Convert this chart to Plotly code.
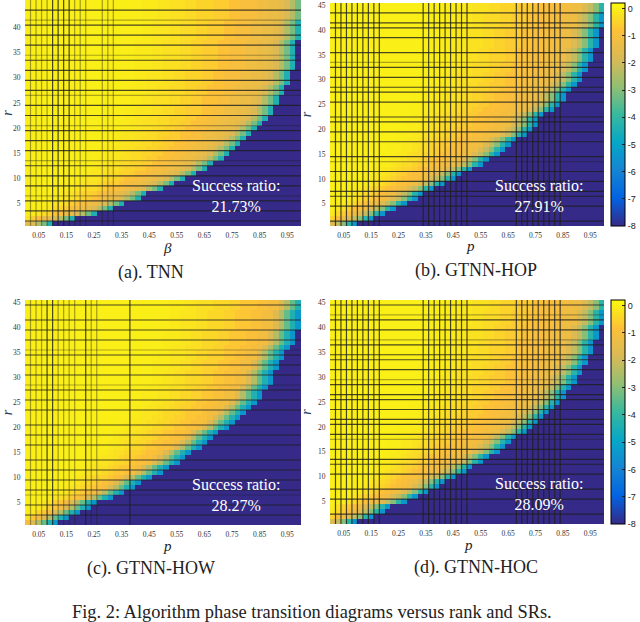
import plotly.graph_objects as go

W, H = 640, 622

# parula, as the colorbar in the picture shows it
PARULA = [[0, "rgb(53,42,135)"], [0.125, "rgb(3,99,225)"], [0.25, "rgb(20,133,212)"],
          [0.375, "rgb(6,167,198)"], [0.5, "rgb(56,185,158)"], [0.625, "rgb(146,191,115)"],
          [0.75, "rgb(217,186,86)"], [0.875, "rgb(253,192,56)"], [1, "rgb(249,251,14)"]]

ranks = list(range(1, 46))
srs = [round(0.01 + 0.02 * i, 2) for i in range(50)]
x_ticks = [0.05, 0.15, 0.25, 0.35, 0.45, 0.55, 0.65, 0.75, 0.85, 0.95]
y_ticks = [5, 10, 15, 20, 25, 30, 35, 40, 45]
cbar_ticks = [0, -1, -2, -3, -4, -5, -6, -7, -8]

# last recovered column of each rank (rank 1 first)
edge_a = [5, 9, 13, 16, 18, 21, 22, 25, 27, 29, 31, 33, 34, 36, 37, 38, 39, 40, 41, 42, 43, 44, 45,
          45, 46, 46, 47, 47, 48, 48, 48, 49, 49, 49, 49, 49, 49, 50, 50, 50, 50, 51, 51, 51, 51]
edge_b = [5, 8, 10, 12, 14, 16, 17, 19, 21, 23, 24, 26, 28, 29, 31, 32, 33, 34, 36, 37, 38, 38, 39,
          41, 42, 43, 43, 44, 45, 46, 46, 47, 47, 48, 48, 48, 49, 49, 49, 49, 50, 50, 50, 51, 51]
edge_c = [6, 8, 10, 12, 13, 16, 18, 20, 21, 23, 25, 26, 28, 29, 30, 32, 33, 34, 35, 37, 38, 39, 40,
          41, 42, 43, 43, 44, 45, 45, 45, 46, 46, 47, 47, 48, 49, 49, 49, 50, 50, 50, 50, 51, 51]
edge_d = [5, 8, 10, 11, 14, 16, 18, 20, 21, 23, 25, 26, 28, 29, 31, 32, 33, 34, 36, 37, 38, 39, 40,
          41, 42, 43, 43, 44, 45, 45, 46, 46, 47, 47, 48, 48, 48, 49, 49, 49, 50, 50, 50, 51, 51]

# log error in the cells right next to the edge
band_a = [-4.4, -3.2, -2.4, -1.8, -1.5]
band_b = [-5.4, -4.2, -3.0, -2.2, -1.7]
band_c = [-5.4, -4.4, -3.4, -2.4, -1.7]
band_d = [-5.4, -4.2, -3.0, -2.2, -1.7]

# log error further in, one entry per 5% of the way from the edge to the left side
fade_a = [-1.3, -1.2, -1.0, -0.8, -0.62, -0.47, -0.35, -0.26, -0.18, -0.1, -0.05, -0.02, 0, 0, 0, 0, 0, 0, 0, 0, 0]
fade_b = [-1.25, -1.1, -0.95, -0.8, -0.65, -0.5, -0.36, -0.24, -0.14, -0.06, -0.02, 0, 0, 0, 0, 0, 0, 0, 0, 0, 0]
fade_c = [-1.1, -0.9, -0.72, -0.55, -0.4, -0.28, -0.18, -0.1, -0.05, -0.02, 0, 0, 0, 0, 0, 0, 0, 0, 0, 0, 0]
fade_d = [-1.25, -1.1, -0.95, -0.8, -0.65, -0.5, -0.36, -0.24, -0.14, -0.06, -0.02, 0, 0, 0, 0, 0, 0, 0, 0, 0, 0]

# dark lines over the images: column edges from the left, row edges from the top
vlines_a = [5, 6, 7, 8]
vlines_soft_a = [1, 2, 3, 4, 9, 10, 11, 14, 15, 16]
hlines_a = [2, 5, 7, 9, 12, 14, 16, 18, 21, 23, 26, 28, 30, 33, 35, 37, 40, 42, 44]
hlines_soft_a = [4, 11, 19, 25, 32, 39]
vlines_b = [1, 2, 3, 4, 5, 6, 7, 8, 9, 17, 18, 19, 20, 21, 22, 23, 24, 25, 34, 35, 36, 37, 38, 39, 40, 41, 42]
vlines_soft_b = []
hlines_b = [2, 4, 5, 7, 10, 13, 15, 17, 18, 20, 23, 24, 26, 28, 31, 34, 36, 38, 39, 41, 44]
hlines_soft_b = [12, 32]
vlines_c = [4, 5, 11, 19]
vlines_soft_c = [1, 2, 3, 6, 7, 8, 9, 12, 13]
hlines_c = [1, 4, 6, 8, 11, 13, 15, 18, 20, 22, 25, 27, 29, 32, 34, 36, 38, 41, 43]
hlines_soft_c = [10, 17, 39]
vlines_d = vlines_b
vlines_soft_d = []
hlines_d = [1, 4, 6, 9, 11, 12, 14, 17, 19, 20, 22, 24, 25, 27, 30, 32, 33, 35, 38, 40, 43]
hlines_soft_d = [3, 8, 16, 28]


def build_z(edges, band, fade):
    z = []
    for edge in edges:
        row = []
        for col in range(1, 51):
            dist = edge - col
            if dist < 0:
                row.append(-8)
            elif dist < len(band):
                row.append(band[dist])
            else:
                row.append(fade[round(20 * (dist - len(band)) / edge)])
        z.append(row)
    return z


def add_text(text, x, y, size, color="#222", angle=0):
    fig.add_annotation(text=text, xref="paper", yref="paper", x=x / W, y=1 - y / H, xanchor="center", yanchor="middle",
                       showarrow=False, align="center", textangle=angle, font=dict(family=SERIF, size=size, color=color))


fig = go.Figure()

panels = [
    dict(name="", box=(25, 301, 0, 226), edges=edge_a, band=band_a, fade=fade_a, xt="<i>β</i>", xt_xy=(167, 248),
         cap="(a). TNN", cap_xy=(151, 272), sr="21.73%", sr_x=236, v=vlines_a, vs=vlines_soft_a, h=hlines_a, hs=hlines_soft_a),
    dict(name="2", box=(330, 604, 3, 226), edges=edge_b, band=band_b, fade=fade_b, xt="<i>p</i>", xt_xy=(470, 246),
         cap="(b). GTNN-HOP", cap_xy=(476, 270), sr="27.91%", sr_x=539, v=vlines_b, vs=vlines_soft_b, h=hlines_b, hs=hlines_soft_b),
    dict(name="3", box=(25, 301, 300, 525), edges=edge_c, band=band_c, fade=fade_c, xt="<i>p</i>", xt_xy=(167, 546),
         cap="(c). GTNN-HOW", cap_xy=(151, 568), sr="28.27%", sr_x=236, v=vlines_c, vs=vlines_soft_c, h=hlines_c, hs=hlines_soft_c),
    dict(name="4", box=(330, 604, 300, 524), edges=edge_d, band=band_d, fade=fade_d, xt="<i>p</i>", xt_xy=(468, 545),
         cap="(d). GTNN-HOC", cap_xy=(476, 567), sr="28.09%", sr_x=539, v=vlines_d, vs=vlines_soft_d, h=hlines_d, hs=hlines_soft_d),
]

SERIF = "Liberation Serif"
layout_axes = {}
for p in panels:
    n = p["name"]
    x0, x1, y0, y1 = p["box"]
    colorbar = None
    if n in ("2", "4"):
        colorbar = dict(x=611 / W, xanchor="left", y=1 - y0 / H, yanchor="top", len=(y1 - y0) / H,
                        thickness=14, xpad=0, ypad=0, outlinecolor="black", outlinewidth=1,
                        tickvals=cbar_ticks, ticktext=[str(t) for t in cbar_ticks], ticks="inside", ticklen=3,
                        tickcolor="#222", tickfont=dict(family="Liberation Sans", size=9, color="#222"))
    # the colorbar runs a little past 0, so the 0 tick sits below its top
    fig.add_trace(go.Heatmap(x=srs, y=ranks, z=build_z(p["edges"], p["band"], p["fade"]), zmin=-8, zmax=0.2,
                             colorscale=PARULA, showscale=colorbar is not None, colorbar=colorbar,
                             xaxis="x" + n, yaxis="y" + n))
    layout_axes["xaxis" + n] = dict(domain=[x0 / W, x1 / W], range=[0, 1], anchor="y" + n, tickvals=x_ticks,
                                    ticktext=[f"{t:.2f}" for t in x_ticks], ticks="outside", ticklen=2,
                                    tickcolor="rgba(0,0,0,0)", tickfont=dict(family=SERIF, size=7.5, color="#333"),
                                    showgrid=False, zeroline=False, showline=False)
    layout_axes["yaxis" + n] = dict(domain=[1 - y1 / H, 1 - y0 / H], range=[0.5, 45.5], anchor="x" + n, tickvals=y_ticks,
                                    ticks="outside", ticklen=2, tickcolor="rgba(0,0,0,0)",
                                    tickfont=dict(family=SERIF, size=7.5, color="#333"),
                                    showgrid=False, zeroline=False, showline=False,
                                    title=dict(text="<i>r</i>", font=dict(family=SERIF, size=14),
                                               standoff=3 if n in ("2", "4") else 8))

    # lines sit on the cell edges
    for k_list, alpha in ((p["vs"], 0.4), (p["v"], 0.8)):
        for k in k_list:
            fig.add_shape(type="line", xref="x" + n, yref="y" + n, x0=0.02 * k, x1=0.02 * k, y0=0.5, y1=45.5,
                          line=dict(color=f"rgba(30,30,30,{alpha})", width=1.2))
    for k_list, alpha in ((p["hs"], 0.35), (p["h"], 0.8)):
        for k in k_list:
            fig.add_shape(type="line", xref="x" + n, yref="y" + n, x0=0, x1=1, y0=45.5 - k, y1=45.5 - k,
                          line=dict(color=f"rgba(30,30,30,{alpha})", width=1.2))

    add_text("Success ratio:<br>" + p["sr"], p["sr_x"], y1 - 30, 16, color="white")
    add_text(p["cap"], p["cap_xy"][0], p["cap_xy"][1], 18)
    add_text(p["xt"], p["xt_xy"][0], p["xt_xy"][1], 15)

add_text("Fig. 2: Algorithm phase transition diagrams versus rank and SRs.", 312, 612, 18.4)

fig.update_layout(width=W, height=H, margin=dict(l=0, r=0, t=0, b=0, autoexpand=False),
                  paper_bgcolor="white", plot_bgcolor="white", showlegend=False, **layout_axes)

fig.write_html("out.html", config={"displayModeBar": False}, post_script="document.body.style.margin='0';")
